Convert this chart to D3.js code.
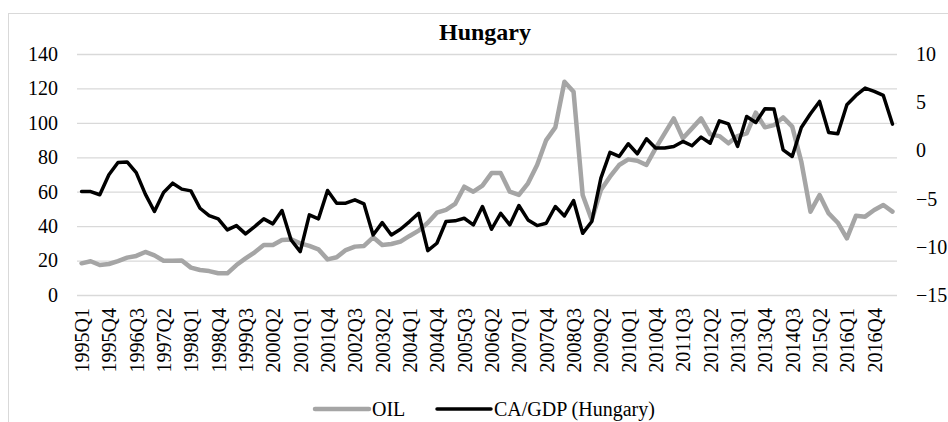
<!DOCTYPE html>
<html>
<head>
<meta charset="utf-8">
<script src="https://cdn.jsdelivr.net/npm/d3@7"></script>
<style>
body{margin:0;background:#fff}
svg{display:block;font-family:"Liberation Serif","Times New Roman",serif}
</style>
</head>
<body>
<div id="chartDiv"></div>
<script>
//---data: quarterly, 1995Q1..2017Q2---
var Years=d3.range(1995,2018)
var Quarters=[]
Years.forEach(function(y){[1,2,3,4].forEach(function(q){Quarters.push(y+"Q"+q)})})
Quarters=Quarters.slice(0,90)

var OilValues=[18.4,19.6,17.4,18.0,19.7,21.7,22.7,25.0,23.0,19.9,
19.9,20.1,15.9,14.5,13.9,12.6,12.6,17.4,21.3,24.8,
29.0,29.0,31.9,32.3,30.0,28.5,26.5,20.7,21.9,26.1,
28.1,28.5,33.5,29.0,29.6,31.0,34.3,37.4,42.0,47.8,
49.4,52.9,62.9,60.0,63.5,70.8,70.8,60.0,58.1,64.9,
75.5,90.0,97.4,123.9,118.1,58.1,43.6,61.0,68.7,75.5,
78.8,78.0,75.5,85.2,93.9,102.6,91.0,96.8,102.6,93.3,
92.3,88.1,92.3,93.9,105.9,97.4,98.7,103.2,97.8,77.4,
48.4,58.1,47.4,42.0,32.9,46.1,45.5,49.4,52.3,48.4]

var CaGdpValues=[-4.27,-4.27,-4.6,-2.53,-1.25,-1.2,-2.3,-4.54,-6.34,-4.37,
-3.4,-4.02,-4.2,-6.0,-6.76,-7.1,-8.25,-7.8,-8.66,-7.9,
-7.1,-7.62,-6.24,-9.29,-10.5,-6.69,-7.1,-4.16,-5.48,-5.48,
-5.13,-5.55,-8.77,-7.49,-8.77,-8.18,-7.38,-6.52,-10.4,-9.63,
-7.38,-7.31,-7.04,-7.73,-5.82,-8.18,-6.52,-7.73,-5.72,-7.21,
-7.8,-7.56,-5.82,-6.8,-5.2,-8.6,-7.38,-2.88,-0.21,-0.63,
0.69,-0.35,1.2,0.24,0.24,0.41,0.93,0.48,1.38,0.75,
3.07,2.76,0.41,3.52,2.9,4.32,4.29,0.06,-0.63,2.38,
3.8,5.08,1.86,1.72,4.74,5.7,6.47,6.12,5.7,2.73]

var LeftTicks=[0,20,40,60,80,100,120,140]
var RightTicks=[-15,-10,-5,0,5,10]
var SeriesNames=["OIL","CA/GDP (Hungary)"]
var SeriesColors=["#a5a5a5","#000000"]

//---layout---
var Width=948,Height=422
var PlotLeft=77,PlotRight=897,PlotTop=54,PlotBottom=295

var ChartSVG=d3.select("#chartDiv").append("svg")
  .attr("width",Width).attr("height",Height)

ChartSVG.append("rect")  //---outer chart border---
  .attr("x",8.5).attr("y",13.5)
  .attr("width",960).attr("height",440)
  .attr("fill","#fff")
  .attr("stroke","#d9d9d9")
  .attr("stroke-width",1)

ChartSVG.append("text")
  .attr("x",485).attr("y",40)
  .attr("text-anchor","middle")
  .attr("font-size","24px")
  .attr("font-weight","bold")
  .attr("fill","#000")
  .text("Hungary")

var X=d3.scalePoint().domain(Quarters).range([PlotLeft,PlotRight]).padding(0.5)
var YLeft=d3.scaleLinear().domain([0,140]).range([PlotBottom,PlotTop])
var YRight=d3.scaleLinear().domain([-15,10]).range([PlotBottom,PlotTop])

//---gridlines---
var GridG=ChartSVG.append("g")
  .attr("transform","translate("+PlotLeft+",0)")
  .call(d3.axisLeft(YLeft).tickValues(LeftTicks).tickSize(-(PlotRight-PlotLeft)).tickFormat(""))
GridG.select(".domain").remove()
GridG.selectAll("line").attr("stroke","#d9d9d9").attr("stroke-width",1.3)

//---left axis---
var LeftG=ChartSVG.append("g")
  .attr("transform","translate(62,0)")
  .call(d3.axisLeft(YLeft).tickValues(LeftTicks).tickSize(0).tickPadding(4))
LeftG.select(".domain").remove()
LeftG.selectAll("text").attr("font-size","20px").attr("font-family","Liberation Serif").attr("fill","#000")

//---right axis---
var RightG=ChartSVG.append("g")
  .attr("transform","translate(912,0)")
  .call(d3.axisRight(YRight).tickValues(RightTicks).tickSize(0).tickPadding(4))
RightG.select(".domain").remove()
RightG.selectAll("text").attr("font-size","20px").attr("font-family","Liberation Serif").attr("fill","#000")

//---x axis, label every 3rd quarter---
var XG=ChartSVG.append("g")
  .attr("transform","translate(0,"+PlotBottom+")")
  .call(d3.axisBottom(X).tickValues(Quarters.filter(function(d,i){return i%3==0})).tickSize(0))
XG.select(".domain").remove()
XG.selectAll("text")
  .attr("font-size","20px").attr("font-family","Liberation Serif").attr("fill","#000")
  .attr("text-anchor","end")
  .attr("transform","rotate(-90)")
  .attr("x",-13).attr("y",0).attr("dy","0.35em")

//---lines---
var OilLine=d3.line().x(function(d,i){return X(Quarters[i])}).y(function(d){return YLeft(d)})
var CaLine=d3.line().x(function(d,i){return X(Quarters[i])}).y(function(d){return YRight(d)})

ChartSVG.append("path")
  .datum(OilValues)
  .attr("d",OilLine)
  .attr("fill","none")
  .attr("stroke",SeriesColors[0])
  .attr("stroke-width",4.5)
  .attr("stroke-linejoin","round")
  .attr("stroke-linecap","round")

ChartSVG.append("path")
  .datum(CaGdpValues)
  .attr("d",CaLine)
  .attr("fill","none")
  .attr("stroke",SeriesColors[1])
  .attr("stroke-width",3.5)
  .attr("stroke-linejoin","round")
  .attr("stroke-linecap","round")

//---legend---
var LegendX=[315,437]
var LegendG=ChartSVG.append("g")
SeriesNames.forEach(function(name,i){
  LegendG.append("line")
    .attr("x1",LegendX[i]).attr("x2",LegendX[i]+54)
    .attr("y1",409).attr("y2",409)
    .attr("stroke",SeriesColors[i])
    .attr("stroke-width",i==0?4.5:3.5)
    .attr("stroke-linecap","round")
  LegendG.append("text")
    .attr("x",LegendX[i]+57).attr("y",416)
    .attr("font-size","20px")
    .attr("fill","#000")
    .text(name)
})
</script>
</body>
</html>
